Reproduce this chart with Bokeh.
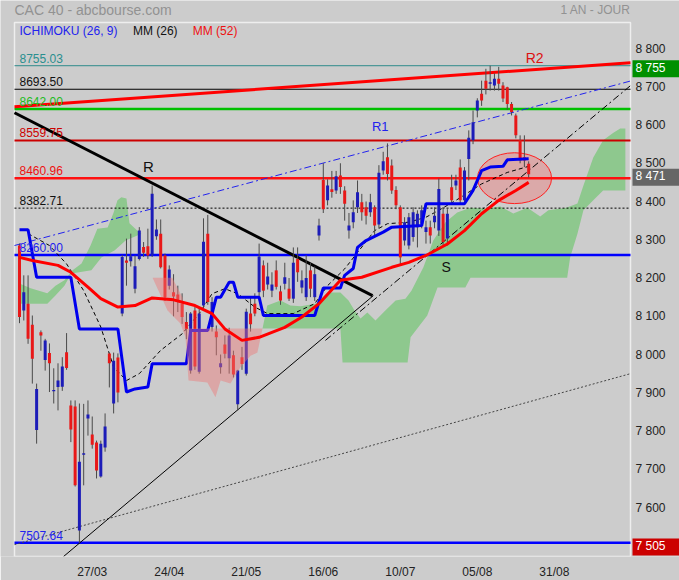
from bokeh.plotting import figure
from bokeh.models import Range1d, FixedTicker
from bokeh.core.properties import value
from bokeh.embed import file_html
from bokeh.resources import INLINE

FONT = "Liberation Sans"

# ---------------- data ----------------
opens = [8285,8115,8133,8078,7803,8058,7986,8004,7904,7915,
         7916,8006,7867,7864,7540,7740,7833,7791,7770,7681,
         7757,8003,7872,7992,8107,8246,8244,8172,8250,8281,
         8283,8259,8309,8316,8259,8180,8163,8157,8133,8085,
         7958,8115,7955,8128,8316,8072,8060,7967,8026,7990,
         7998,7870,7993,7950,8107,8133,8163,8233,8183,8167,
         8220,8165,8185,8172,8146,8250,8175,8150,8220,8150,
         8311,8456,8403,8432,8429,8468,8429,8324,8346,8385,
         8398,8385,8372,8385,8340,8481,8516,8494,8430,8385,
         8298,8285,8307,8333,8342,8320,8333,8346,8324,8368,
         8303,8437,8442,8489,8403,8511,8560,8638,8682,8716,
         8708,8703,8721,8703,8699,8655,8625,8560,8516,8499]
highs = [8290,8207,8207,8102,7924,8063,8041,8029,7964,7977,
         7993,8056,7880,7880,7872,7871,7880,7838,7775,7775,
         7846,8005,8005,8003,8260,8303,8316,8259,8333,8294,
         8329,8442,8353,8353,8264,8233,8210,8180,8160,8111,
         8111,8124,8120,8356,8365,8150,8076,8000,8050,8070,
         8010,7960,8020,8120,8150,8160,8290,8246,8240,8215,
         8246,8180,8240,8200,8280,8280,8220,8260,8240,8230,
         8355,8500,8458,8480,8480,8500,8440,8370,8403,8455,
         8420,8400,8420,8390,8495,8530,8552,8510,8440,8390,
         8359,8370,8385,8377,8390,8350,8350,8385,8460,8385,
         8380,8470,8470,8510,8490,8586,8638,8670,8716,8747,
         8755,8735,8752,8712,8700,8660,8630,8573,8573,8505]
lows = [8082,8089,8028,7924,7767,8010,7958,7902,7872,7854,
        7905,7960,7771,7655,7507.64,7658,7788,7754,7676,7678,
        7746,7914,7846,7875,8100,8180,8230,8160,8246,8255,
        8250,8255,8300,8225,8140,8170,8100,8111,8080,8040,
        7950,7960,7950,8120,8130,8060,7998,7950,7990,7950,
        7940,7854,7960,7945,8060,8100,8150,8150,8170,8150,
        8170,8130,8170,8140,8135,8190,8160,8140,8150,8140,
        8298,8370,8390,8410,8420,8420,8350,8303,8330,8370,
        8350,8340,8360,8310,8330,8470,8455,8420,8380,8233,
        8285,8275,8295,8280,8330,8290,8290,8330,8310,8285,
        8285,8395,8430,8395,8395,8455,8550,8620,8650,8680,
        8690,8690,8690,8660,8640,8625,8565,8500,8490,8463]
closes = [8098,8163,8041,7989,7910,8050,8037,7977,7907,7932,
          7969,7965,7804,7658,7720,7742,7843,7764,7697,7767,
          7812,7977,7984,7901,8255,8240,8257,8231,8324,8266,
          8259,8420,8327,8228,8150,8222,8152,8137,8098,8067,
          8107,7969,8107,8295,8137,8137,8045,7977,8002,8050,
          7948,7958,7975,8112,8079,8107,8256,8167,8204,8183,
          8177,8141,8202,8146,8240,8215,8194,8200,8172,8210,
          8337,8380,8442,8425,8466,8438,8394,8337,8372,8424,
          8372,8363,8398,8337,8475,8505,8472,8429,8390,8254,
          8346,8359,8372,8368,8377,8333,8311,8363,8433,8294,
          8368,8403,8455,8403,8481,8567,8607,8664,8664,8695,
          8712,8721,8708,8669,8655,8634,8573,8507,8507,8471]

# Ichimoku kijun (blue step line)
kijun_x = [0, 2, 4, 12, 14, 23, 25, 27, 30, 31, 39, 40, 44, 46, 47, 49, 50, 51, 56, 57,
           69, 71, 75, 76, 78, 79, 81, 85, 87, 94, 95, 104, 106, 108, 110, 113, 114, 119]
kijun_v = [8326, 8326, 8202, 8202, 8067, 8067, 7902, 7910, 7915, 7976, 7976, 8063, 8063, 8150,
           8150, 8189, 8189, 8150, 8150, 8102, 8102, 8174, 8174, 8207, 8225, 8280, 8298, 8320,
           8333, 8337, 8394, 8394, 8429, 8481, 8490, 8492, 8509, 8512]

# MM (26) dashed black
mm26_x = [2, 7, 11, 15, 19, 22, 25, 28, 33, 38, 42, 45, 48, 51, 55, 58, 64, 69, 72, 76,
          80, 83, 86, 91, 95, 98, 102, 108, 114, 119]
mm26_v = [8316, 8285, 8237, 8167, 8072, 7967, 7932, 7950, 8011, 8054, 8107, 8159, 8172, 8159,
          8124, 8107, 8107, 8133, 8180, 8224, 8281, 8324, 8342, 8346, 8359, 8377, 8403, 8446,
          8476, 8492]

# MM (52) red
mm52_x = [0, 3, 9, 12, 16, 19, 23, 27, 31, 36, 41, 45, 48, 52, 56, 62, 66, 70, 75, 80,
          87, 91, 95, 100, 104, 108, 112, 116, 119]
mm52_v = [8254, 8246, 8233, 8215, 8176, 8146, 8124, 8128, 8148, 8143, 8128, 8107, 8067, 8037,
          8045, 8071, 8098, 8133, 8194, 8202, 8228, 8241, 8259, 8289, 8324, 8368, 8403, 8429, 8450]

# Ichimoku cloud outlines
g1_top_x = [0, 2.6, 6.5, 8.4, 10.5, 12.4, 14.5, 16.6, 18.2, 20.6, 22.0, 22.9, 23.8, 25.0, 25.7, 28.0, 28.5]
g1_top_v = [8186, 8173, 8160, 8180, 8194, 8220, 8238, 8285, 8329, 8332, 8371, 8403, 8411, 8408, 8343, 8319, 8316]
g1_bot_x = [0, 6.5, 8.4, 10.5, 12.1, 16.8, 19.2, 22.2, 24.8, 28.5]
g1_bot_v = [8133, 8133, 8154, 8180, 8212, 8220, 8254, 8272, 8298, 8316]

pk_top_x = [31.1, 35.7, 38.1, 38.8, 56.8]
pk_top_v = [8201, 8201, 8149, 8068, 8068]
pk_bot_x = [31.1, 34.6, 37.6, 38.8, 39.5, 43.9, 45.8, 47.0, 49.3, 51.6, 54.0, 55.6, 56.8]
pk_bot_v = [8201, 8115, 8081, 8045, 7932, 7927, 7888, 7932, 7924, 7966, 7997, 8005, 8068]

g2_top_x = [56.8, 57.9, 61.0, 63.3, 65.7, 69.2, 72.0, 75.0, 76.9, 78.3, 79.7, 81.3, 83.2, 85.5,
            87.9, 90.2, 91.6, 94.4, 96.7, 99.5, 102.3, 105.4, 109.3, 112.4, 115.4, 118.7, 121.7,
            123.6, 127.8, 130.4, 131.8, 134.1, 136.4, 138.8, 140.4, 141.6]
g2_top_v = [8068, 8128, 8141, 8128, 8126, 8133, 8162, 8162, 8141, 8115, 8094, 8110, 8089, 8115,
            8141, 8146, 8167, 8228, 8298, 8345, 8371, 8384, 8382, 8387, 8369, 8384, 8361,
            8377, 8384, 8395, 8442, 8515, 8560, 8580, 8591, 8591]
g2_bot_x = [56.8, 75.0, 75.5, 90.7, 91.4, 95.3, 97.7, 104.2, 105.4, 128.0, 128.7, 130.4, 131.8,
            134.1, 136.4, 141.6]
g2_bot_v = [8068, 8068, 7979, 7979, 8045, 8102, 8175, 8175, 8201, 8201, 8254, 8316, 8377,
            8403, 8429, 8429]

# horizontal levels
levels = [8755.03, 8693.50, 8642.00, 8559.75, 8460.96, 8382.71, 8260.00, 7507.64]
level_labels = ["8755.03", "8693.50", "8642.00", "8559.75", "8460.96", "8382.71", "8260.00", "7507.64"]

# trend lines (bar index, price) start / end
trend_a = [(10.3, 7472), (82.7, 8154)]      # thin black support
trend_b = [(71.5, 8037), (142.8, 8703)]     # thin black dash-dot
trend_c = [(-1.17, 7503), (142.8, 7950)]    # grey dotted
trend_d = [(-1.17, 8632), (82.5, 8154)]     # thick black resistance
trend_e = [(-1.17, 8648), (142.8, 8763)]    # R2 red
trend_f = [(-1.17, 8285), (142.8, 8715)]    # R1 blue dash-dot

# last values shown in boxes on the price scale
box_values = [8755, 8471, 7505]
box_labels = ["8 755", "8 471", "7 505"]

y_ticks = [7600, 7700, 7800, 7900, 8000, 8100, 8200, 8300, 8400, 8500, 8600, 8700, 8800]
y_tick_labels = ["7 600", "7 700", "7 800", "7 900", "8 000", "8 100", "8 200", "8 300",
                 "8 400", "8 500", "8 600", "8 700", "8 800"]
x_ticks = [17, 35, 53, 71, 89, 107, 125]
x_tick_labels = ["27/03", "24/04", "21/05", "16/06", "10/07", "05/08", "31/08"]

# ---------------- figure ----------------
PXB = 616 / 143.97          # pixels per bar
PXV = 534 / 1396.0          # pixels per index point
X0, X1 = -1.17, 142.8       # chart area
Y0, Y1 = 7472, 8868
FX0, FX1 = X0 - 14 / PXB, X1 + 49 / PXB     # whole canvas
FY1 = Y1 + 22 / PXV

p = figure(frame_width=679, frame_height=556,
           x_range=Range1d(FX0, FX1), y_range=Range1d(Y0, FY1),
           output_backend="svg", toolbar_location=None, y_axis_location="right",
           min_border_left=0, min_border_top=0, min_border_right=0, min_border_bottom=24,
           background_fill_color="#cccccc", border_fill_color="#cccccc",
           outline_line_color=None)
p.xgrid.visible = False
p.ygrid.visible = False
for ax in (p.xaxis[0], p.yaxis[0]):
    ax.axis_line_color = None
    ax.major_tick_line_color = None
    ax.minor_tick_line_color = None
    ax.major_tick_out = 0
    ax.major_tick_in = 0
    ax.major_label_text_font = FONT
    ax.major_label_text_font_size = "12px"
    ax.major_label_text_color = "#222222"
p.yaxis.ticker = FixedTicker(ticks=y_ticks)
p.yaxis.major_label_overrides = {t: s for t, s in zip(y_ticks, y_tick_labels)}
p.yaxis.major_label_standoff = -44
p.xaxis.ticker = FixedTicker(ticks=x_ticks)
p.xaxis.major_label_overrides = {t: s for t, s in zip(x_ticks, x_tick_labels)}
p.xaxis.major_label_standoff = 8

T = dict(text_font=value(FONT))

# green cloud (under everything)
for tx, tv, bx, bv in ((g1_top_x, g1_top_v, g1_bot_x, g1_bot_v),
                       (g2_top_x, g2_top_v, g2_bot_x, g2_bot_v)):
    p.patch(tx + bx[::-1], tv + bv[::-1], fill_color="#8ec88e", line_color=None)

# chart-area border
p.quad(left=[X0], right=[X1], bottom=[Y0], top=[Y1], fill_color=None,
       line_color="#eeeeee", line_width=1.5)

# ellipse
p.ellipse(x=[115.7], y=[8461], width=[17.3], height=[133],
          fill_color="#ff5a5a", fill_alpha=0.3, line_color="#ff2020", line_width=1)

# horizontal levels
lv_colors = ["#2e8b8b", "#000000", "#00c000", "#cc0000", "#ff1010", "#000000", "#0000ff", "#0000ff"]
lv_widths = [1, 1, 2.5, 2, 2.5, 1, 2.5, 2.5]
lv_dash = ["solid", "solid", "solid", "solid", "solid", "2 2", "solid", "solid"]
for v, c, w, d in zip(levels, lv_colors, lv_widths, lv_dash):
    p.segment(x0=[X0], y0=[v], x1=[X1], y1=[v], line_color=c, line_width=w, line_dash=d)

def tline(seg, **kw):
    (xa, ya), (xb, yb) = seg
    p.line([xa, xb], [ya, yb], **kw)

tline(trend_c, line_color="#444444", line_width=1, line_dash="2 2")
tline(trend_a, line_color="#000000", line_width=1)
tline(trend_b, line_color="#000000", line_width=1, line_dash="7 3 2 3")
tline(trend_f, line_color="#2222ee", line_width=1, line_dash="7 3 2 3")
tline(trend_d, line_color="#000000", line_width=3)
tline(trend_e, line_color="#ff0000", line_width=3)

# MM26
p.line(mm26_x, mm26_v, line_color="#000000", line_width=1, line_dash="4 3")

# candles
idx = list(range(len(closes)))
cols = ["#1c1cb8" if c >= o else "#e81818" for o, c in zip(opens, closes)]
p.segment(x0=idx, y0=lows, x1=idx, y1=highs, line_color="#4a4a4a", line_width=1)
tops = [max(o, c) for o, c in zip(opens, closes)]
bots = [min(o, c) if abs(o - c) > 2 else min(o, c) - 2 for o, c in zip(opens, closes)]
p.vbar(x=idx, top=tops, bottom=bots, width=0.7, fill_color=cols, line_color=None)

# kijun
p.line(kijun_x, kijun_v, line_color="#0000ee", line_width=3)

# pink cloud (semi transparent, over kijun)
p.patch(pk_top_x + pk_bot_x[::-1], pk_top_v + pk_bot_v[::-1],
        fill_color="#ee7878", fill_alpha=0.45, line_color=None)

# MM52
p.line(mm52_x, mm52_v, line_color="#ff0000", line_width=3)

# ---------------- texts ----------------
def txt(x, y, text, color, size="12px", align="left", baseline="middle"):
    p.text(x=[x], y=[y], text=[text], text_color=color, text_font_size=value(size),
           text_align=align, text_baseline=baseline, **T)

lab_colors = ["#2a8f8f", "#111111", "#22bb22", "#cc0000", "#ee1111", "#111111", "#2222ee", "#2222ee"]
for v, t, c in zip(levels, level_labels, lab_colors):
    txt(0, v + 3 / PXV, t, c, baseline="bottom")

# legend
LEG_Y = Y1 - 8 / PXV
txt(0, LEG_Y, "ICHIMOKU (26, 9)", "#2222ee")
txt(26.5, LEG_Y, "MM (26)", "#111111")
txt(40.5, LEG_Y, "MM (52)", "#ee1111")

# header
HEAD_Y = Y1 + 13 / PXV
txt(X0, HEAD_Y, "CAC 40 - abcbourse.com", "#929292", size="14px")
txt(X1, HEAD_Y, "1 AN - JOUR", "#929292", size="12px", align="right")

# annotations
txt(30.1, 8492, "R", "#111111", size="15px", align="center")
txt(84.3, 8596, "R1", "#2222ee", size="13px", align="center")
txt(120.4, 8776, "R2", "#dd1111", size="14px", align="center")
txt(99.7, 8228, "S", "#111111", size="14px", align="center")

# value boxes on the price scale
box_colors = ["#009000", "#666666", "#cc0000"]
BOX_CX = X1 + 25.5 / PXB
p.rect(x=[BOX_CX] * 3, y=[v - 3 / PXV for v in box_values], width=47 / PXB, height=17 / PXV,
       fill_color=box_colors, line_color=None)
p.text(x=[X1 + 5 / PXB] * 3, y=[v - 2 / PXV for v in box_values], text=box_labels,
       text_color="#ffffff", text_font_size=value("12px"), text_align="left",
       text_baseline="middle", **T)

html = file_html(p, INLINE)
html = html.replace("<body>", '<body style="background-color:#cccccc;">', 1)
open("out.html", "w").write(html)
